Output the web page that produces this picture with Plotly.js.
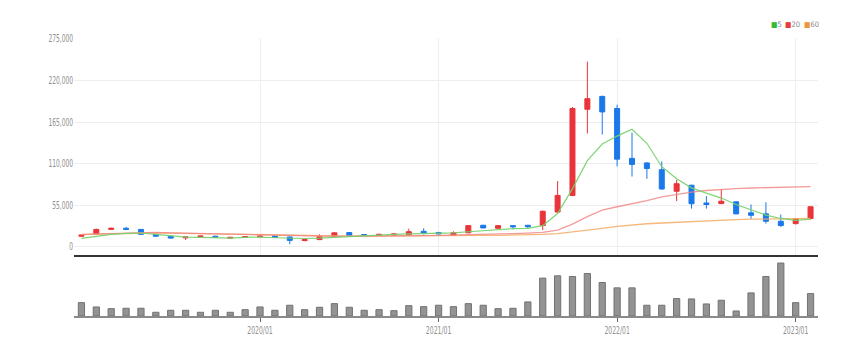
<!DOCTYPE html>
<html>
<head>
<meta charset="utf-8">
<script src="https://cdn.plot.ly/plotly-3.0.1.min.js"></script>
<style>
html,body{margin:0;padding:0;background:#fff;}
#chart{width:866px;height:355px;}
</style>
</head>
<body>
<div id="chart"></div>
<script>
// Months (monthly candles)
var months = ["2019/01","2019/02","2019/03","2019/04","2019/05","2019/06","2019/07","2019/08","2019/09","2019/10","2019/11","2019/12",
"2020/01","2020/02","2020/03","2020/04","2020/05","2020/06","2020/07","2020/08","2020/09","2020/10","2020/11","2020/12",
"2021/01","2021/02","2021/03","2021/04","2021/05","2021/06","2021/07","2021/08","2021/09","2021/10","2021/11","2021/12",
"2022/01","2022/02","2022/03","2022/04","2022/05","2022/06","2022/07","2022/08","2022/09","2022/10","2022/11","2022/12",
"2023/01","2023/02"];

var openP  = [14000,17000,23000,24500,23000,16500,14000,11800,13000,14000,11500,12500,
13200,14200,13000,8200,9500,13500,18800,16200,15000,15500,16000,20500,
19000,15500,18500,28500,24500,28000,28500,28000,46000,68000,182000,199000,
183000,117000,111000,102000,73500,81500,58000,57200,59500,45000,43600,33800,
30700,37400];
var highP  = [16000,24000,25500,26500,23500,17000,14500,13500,14800,14500,13000,14000,
14800,14800,13500,10000,16500,19000,19500,16500,17500,18000,24000,24500,
19500,20500,28500,29000,28500,28500,29000,48000,87000,185000,245000,200000,
188000,151000,112000,113000,88500,82000,67000,76500,60000,56000,59000,42700,
37500,53500];
var lowP   = [13000,16500,22500,22000,16000,13500,11000,9000,12500,12500,11000,12000,
12800,12500,3500,7500,9000,13000,14800,14500,14500,15000,15500,16500,
16500,15000,18000,24500,24000,23000,25000,22000,45000,67000,150000,148500,
106500,93000,90000,75500,60500,50500,50500,56500,43000,37000,30700,26400,
29400,36000];
var closeP = [15500,23000,24500,23000,16500,14000,11500,13000,14200,12800,12500,13500,
14200,12800,8500,9500,13500,18500,15200,15000,16500,17000,20000,17500,
17000,18500,28000,25000,28000,26500,26500,47000,68000,183000,196000,178500,
116000,109000,103500,76500,83500,57000,56000,60300,43600,41700,33800,28100,
37000,53000];

// Moving averages
var ma5  = [11100,13800,16400,17700,18300,16400,14800,12800,12400,12000,11500,12400,
12800,12000,11200,11000,11500,12500,14000,15200,16000,16500,17000,17500,
17800,18500,19900,21500,23000,24000,24400,28000,44000,77000,114000,136000,
146500,155500,137000,106000,90000,78000,71000,64500,56000,48500,42000,37500,
35000,36500];
var ma20 = [16500,17000,17800,18500,19000,19000,18500,18000,17500,17000,16500,16000,
15500,15000,14500,14000,13800,13800,14000,14000,14200,14200,14500,14800,
15000,15300,15800,16300,16800,17500,18200,19000,22000,30000,40000,48500,
53000,56600,61000,66000,69500,72500,74500,76000,77000,77800,78300,78800,
79200,79600];
var ma60 = [16000,16500,17200,18000,18500,18500,18200,17800,17300,16800,16300,15900,
15500,15200,14800,14500,14300,14200,14100,14100,14100,14200,14300,14400,
14500,14600,14800,15000,15200,15500,15800,16500,17500,19500,22000,24300,
27000,29000,30500,31500,32500,33500,34500,35200,36000,36500,37000,37200,
37400,37600];

// Monthly volume
var volume = [1330000,900000,730000,770000,770000,370000,570000,570000,370000,570000,370000,630000,
900000,570000,1070000,630000,870000,1230000,870000,570000,630000,530000,1030000,930000,
1070000,930000,1230000,1070000,730000,770000,1400000,3770000,4000000,3930000,4230000,3330000,
2800000,2800000,1070000,1070000,1730000,1700000,1200000,1570000,500000,2300000,3930000,5270000,
1330000,2230000];

var xTicks = ["2020/01","2021/01","2022/01","2023/01"];
var yTicks = [0,55000,110000,165000,220000,275000];
var maNames = ["5","20","60"];
var maColors = ["#33bb33","#e83a3a","#f0953a"];

var FONT = "'Liberation Sans Narrow','DejaVu Sans Condensed','Roboto Condensed',sans-serif";
var RED = '#e8343a', BLUE = '#1a78ea';

var traces = [
  {
    type: 'scatter', mode: 'lines', x: months, y: ma60, xaxis: 'x', yaxis: 'y',
    line: {color: 'rgba(245,170,100,0.85)', width: 1.3}, hoverinfo: 'skip', showlegend: false
  },
  {
    type: 'scatter', mode: 'lines', x: months, y: ma20, xaxis: 'x', yaxis: 'y',
    line: {color: 'rgba(240,130,130,0.8)', width: 1.3}, hoverinfo: 'skip', showlegend: false
  },
  {
    type: 'scatter', mode: 'lines', x: months, y: ma5, xaxis: 'x', yaxis: 'y',
    line: {color: 'rgba(120,210,110,0.95)', width: 1.2}, hoverinfo: 'skip', showlegend: false
  },
  {
    type: 'candlestick', x: months, open: openP, high: highP, low: lowP, close: closeP,
    xaxis: 'x', yaxis: 'y', whiskerwidth: 0,
    increasing: {line: {color: RED, width: 1}, fillcolor: RED},
    decreasing: {line: {color: BLUE, width: 1}, fillcolor: BLUE},
    showlegend: false
  },
  {
    type: 'bar', x: months, y: volume, xaxis: 'x2', yaxis: 'y2',
    marker: {color: '#939393', line: {color: '#727272', width: 1}},
    showlegend: false
  }
];

// legend items as separate annotations (paper x for pixel positions 770, 784, 803)
var legendX = [0.9355, 0.9543, 0.9798];
var annotations = maNames.map(function (n, i) {
  return {
    xref: 'paper', yref: 'paper', x: legendX[i], y: 1.05, xanchor: 'left', yanchor: 'middle',
    showarrow: false, borderpad: 0,
    text: '<span style="color:' + maColors[i] + '">■</span>' + n,
    font: {family: FONT, size: 7.5, color: '#888888'}
  };
});

var layout = {
  width: 866, height: 355,
  margin: {l: 74, r: 48, t: 38, b: 39},
  paper_bgcolor: '#ffffff', plot_bgcolor: '#ffffff',
  showlegend: false,
  boxgap: 0.52,
  bargap: 0.58,
  font: {family: FONT, size: 10, color: '#8a8a8a'},
  xaxis: {
    type: 'category', anchor: 'y', domain: [0, 1], range: [-0.5, 49.5],
    rangeslider: {visible: false},
    tickvals: xTicks, showticklabels: false, ticks: '',
    showgrid: true, gridcolor: '#eeeeee', gridwidth: 1,
    showline: true, linecolor: '#333333', linewidth: 2, zeroline: false
  },
  yaxis: {
    domain: [0.219, 1], range: [-11000, 276300],
    tickvals: yTicks, tickformat: ',d', ticks: '',
    showgrid: true, gridcolor: '#eeeeee', gridwidth: 1, zeroline: false,
    showline: false, ticklabelstandoff: 0,
    tickfont: {family: FONT, size: 10, color: '#8f8f8f'}
  },
  xaxis2: {
    type: 'category', anchor: 'y2', domain: [0, 1], range: [-0.5, 49.5],
    tickvals: xTicks, ticks: 'outside', ticklen: 4, tickcolor: '#666', tickwidth: 1,
    showgrid: false, showline: true, linecolor: '#8a8a8a', linewidth: 2, zeroline: false,
    tickfont: {family: FONT, size: 10, color: '#8f8f8f'}
  },
  yaxis2: {
    domain: [0, 0.2086], range: [0, 5770000],
    showticklabels: false, showgrid: false, zeroline: false, showline: false, ticks: ''
  },
  annotations: annotations
};

function condense(sel, ratio) {
  document.querySelectorAll(sel).forEach(function (t) {
    try {
      var w = t.getComputedTextLength();
      if (w > 0) {
        t.setAttribute('textLength', (w * ratio).toFixed(2));
        t.setAttribute('lengthAdjust', 'spacingAndGlyphs');
      }
    } catch (e) {}
  });
}

Plotly.newPlot('chart', traces, layout, {displayModeBar: false, staticPlot: true}).then(function () {
  condense('#chart g.ytick text', 0.66);
  condense('#chart g.x2tick text', 0.68);
});
</script>
</body>
</html>
